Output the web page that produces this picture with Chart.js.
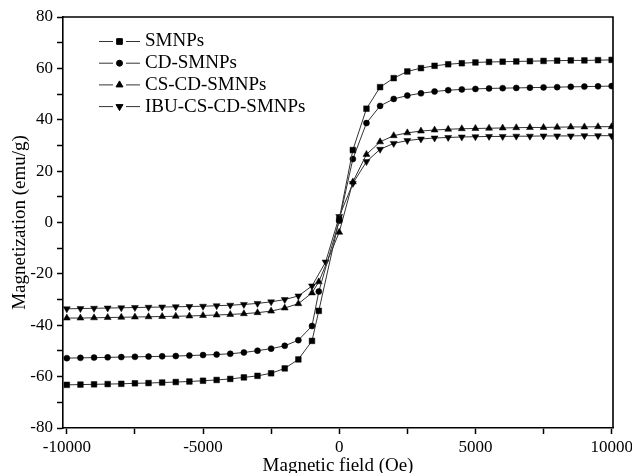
<!DOCTYPE html>
<html>
<head>
<meta charset="utf-8">
<script src="https://cdn.jsdelivr.net/npm/chart.js@4.4.0/dist/chart.umd.min.js"></script>
<style>
  html, body { margin:0; padding:0; background:#fff; }
  #wrap { width:632px; height:473px; }
</style>
</head>
<body>
<div id="wrap"><canvas id="chart" width="632" height="473"></canvas></div>
<script>
// Applied field (Oe); null in a series = no measured point there
const fieldOe = [-10000,-9500,-9000,-8500,-8000,-7500,-7000,-6500,-6000,-5500,-5000,-4500,-4000,-3500,-3000,-2500,-2000,-1500,-1000,
  -750,-500,0,500,
  1000,1500,2000,2500,3000,3500,4000,4500,5000,5500,6000,6500,7000,7500,8000,8500,9000,9500,10000];

const smnps = [-63.2,-63.1,-63.0,-62.9,-62.8,-62.6,-62.5,-62.3,-62.1,-61.9,-61.6,-61.3,-60.9,-60.3,-59.7,-58.7,-56.8,-53.3,-46.1,
  -34.4,null,1.2,28.2,
  44.3,52.7,56.2,58.8,60.1,61.0,61.6,62.0,62.3,62.5,62.6,62.7,62.8,62.9,63.0,63.1,63.1,63.2,63.3];

const cdSmnps = [-52.8,-52.7,-52.6,-52.5,-52.4,-52.3,-52.2,-52.1,-52.0,-51.8,-51.6,-51.4,-51.1,-50.6,-49.9,-49.1,-48.0,-45.8,-40.3,
  -26.9,null,0.7,24.7,
  38.7,45.4,48.1,49.4,50.3,51.0,51.5,51.8,52.0,52.2,52.3,52.4,52.5,52.6,52.7,52.8,52.9,53.0,53.1];

const csCdSmnps = [-37.2,-37.2,-37.1,-37.0,-36.9,-36.8,-36.7,-36.6,-36.5,-36.4,-36.2,-36.0,-35.8,-35.5,-35.1,-34.5,-33.3,-31.6,-27.4,
  -23.1,null,-3.8,15.8,
  26.5,31.4,33.8,34.9,35.6,36.0,36.3,36.5,36.6,36.7,36.8,36.9,37.0,37.0,37.1,37.2,37.2,37.3,37.3];

const ibuCsCdSmnps = [-33.6,-33.5,-33.4,-33.3,-33.2,-33.1,-33.0,-32.9,-32.8,-32.7,-32.6,-32.4,-32.2,-31.9,-31.5,-30.9,-30.0,-28.6,-24.7,
  null,-15.4,2.3,15.2,
  23.7,28.5,30.8,31.9,32.5,32.9,33.1,33.3,33.4,33.5,33.5,33.6,33.6,33.7,33.7,33.7,33.8,33.8,33.8];

const seriesNames = ['SMNPs','CD-SMNPs','CS-CD-SMNPs','IBU-CS-CD-SMNPs'];

const xTicks = [-10000,-7500,-5000,-2500,0,2500,5000,7500,10000];
const xTickLabels = ['-10000','','-5000','','0','','5000','','10000'];
const yTicks = [-80,-70,-60,-50,-40,-30,-20,-10,0,10,20,30,40,50,60,70,80];
const yTickLabels = ['-80','','-60','','-40','','-20','','0','','20','','40','','60','','80'];

const SERIF = "'Liberation Serif', 'Times New Roman', serif";

function pts(arr){
  return fieldOe.map((x,i)=>({x:x, y:arr[i]})).filter(p=>p.y !== null);
}

function mkSet(label, arr, style, r, rot){
  return {
    label: label,
    data: pts(arr),
    borderColor: '#333',
    borderWidth: 1,
    backgroundColor: '#000',
    pointBackgroundColor: '#000',
    pointBorderColor: '#000',
    pointBorderWidth: 0.5,
    pointStyle: style,
    pointRadius: r,
    pointRotation: rot || 0,
    tension: 0,
    fill: false
  };
}

// top + right edge of the frame
const framePlugin = {
  id: 'frame',
  afterDraw(chart){
    const {ctx, chartArea:a} = chart;
    ctx.save();
    ctx.strokeStyle = '#000';
    ctx.lineWidth = 1.6;
    ctx.beginPath();
    ctx.moveTo(a.left, a.top);
    ctx.lineTo(a.right, a.top);
    ctx.lineTo(a.right, a.bottom);
    ctx.stroke();
    ctx.restore();
  }
};

// legend like "—■— name" in the upper left of the plot
const legendPlugin = {
  id: 'lineLegend',
  afterDraw(chart){
    const {ctx, chartArea:a} = chart;
    ctx.save();
    chart.data.datasets.forEach((ds,i)=>{
      const y = a.top + 24.5 + i*21.7;
      const x0 = a.left + 36;
      ctx.strokeStyle = ds.borderColor;
      ctx.lineWidth = 1;
      ctx.beginPath();
      ctx.moveTo(x0, y); ctx.lineTo(x0+14, y);
      ctx.moveTo(x0+27, y); ctx.lineTo(x0+41, y);
      ctx.stroke();
      ctx.fillStyle = '#000';
      ctx.strokeStyle = '#000';
      Chart.helpers.drawPoint(ctx, {
        pointStyle: ds.pointStyle,
        radius: ds.pointRadius,
        rotation: ds.pointRotation,
        borderWidth: 0.5
      }, x0+20.5, y);
      ctx.font = '19px ' + SERIF;
      ctx.textBaseline = 'middle';
      ctx.textAlign = 'left';
      ctx.fillText(ds.label, x0+46, y);
    });
    ctx.restore();
  }
};

new Chart(document.getElementById('chart').getContext('2d'), {
  type: 'line',
  data: {
    datasets: [
      mkSet(seriesNames[0], smnps, 'rect', 4),
      mkSet(seriesNames[1], cdSmnps, 'circle', 3),
      mkSet(seriesNames[2], csCdSmnps, 'triangle', 4),
      mkSet(seriesNames[3], ibuCsCdSmnps, 'triangle', 4, 180)
    ]
  },
  options: {
    responsive: false,
    animation: false,
    devicePixelRatio: 1,
    layout: { padding: { top: 17, right: 19, left: 0, bottom: 0 } },
    plugins: { legend: { display: false }, tooltip: { enabled: false } },
    scales: {
      x: {
        type: 'linear',
        position: 'bottom',
        min: -10140,
        max: 10050,
        afterBuildTicks(s){ s.ticks = xTicks.map(v=>({value:v})); },
        afterFit(s){ s.height = 45; s.paddingLeft = 0; s.paddingRight = 0; },
        ticks: {
          autoSkip: false, maxRotation: 0, padding: 3, color: '#000',
          font: { family: SERIF, size: 17 },
          callback: (v) => xTickLabels[xTicks.indexOf(v)]
        },
        grid: { drawOnChartArea: false, drawTicks: true, tickLength: 6, tickColor: '#000', tickWidth: 1.5 },
        border: { display: true, color: '#000', width: 1.6 },
        title: {
          display: true, text: 'Magnetic field (Oe)', color: '#000',
          font: { family: SERIF, size: 19, lineHeight: 1 },
          padding: { top: 0, bottom: -3 }
        }
      },
      y: {
        min: -80,
        max: 80,
        afterBuildTicks(s){ s.ticks = yTicks.map(v=>({value:v})); },
        afterFit(s){ s.width = 63; s.paddingTop = 0; s.paddingBottom = 0; },
        ticks: {
          autoSkip: false, padding: 4, color: '#000',
          font: { family: SERIF, size: 17 },
          callback: (v) => yTickLabels[yTicks.indexOf(v)]
        },
        grid: { drawOnChartArea: false, drawTicks: true, tickLength: 6, tickColor: '#000', tickWidth: 1.5 },
        border: { display: true, color: '#000', width: 1.6 },
        title: {
          display: true, text: 'Magnetization (emu/g)', color: '#000',
          font: { family: SERIF, size: 19, lineHeight: 1 },
          padding: { top: 10.5, bottom: 0 }
        }
      }
    }
  },
  plugins: [framePlugin, legendPlugin]
});
</script>
</body>
</html>
